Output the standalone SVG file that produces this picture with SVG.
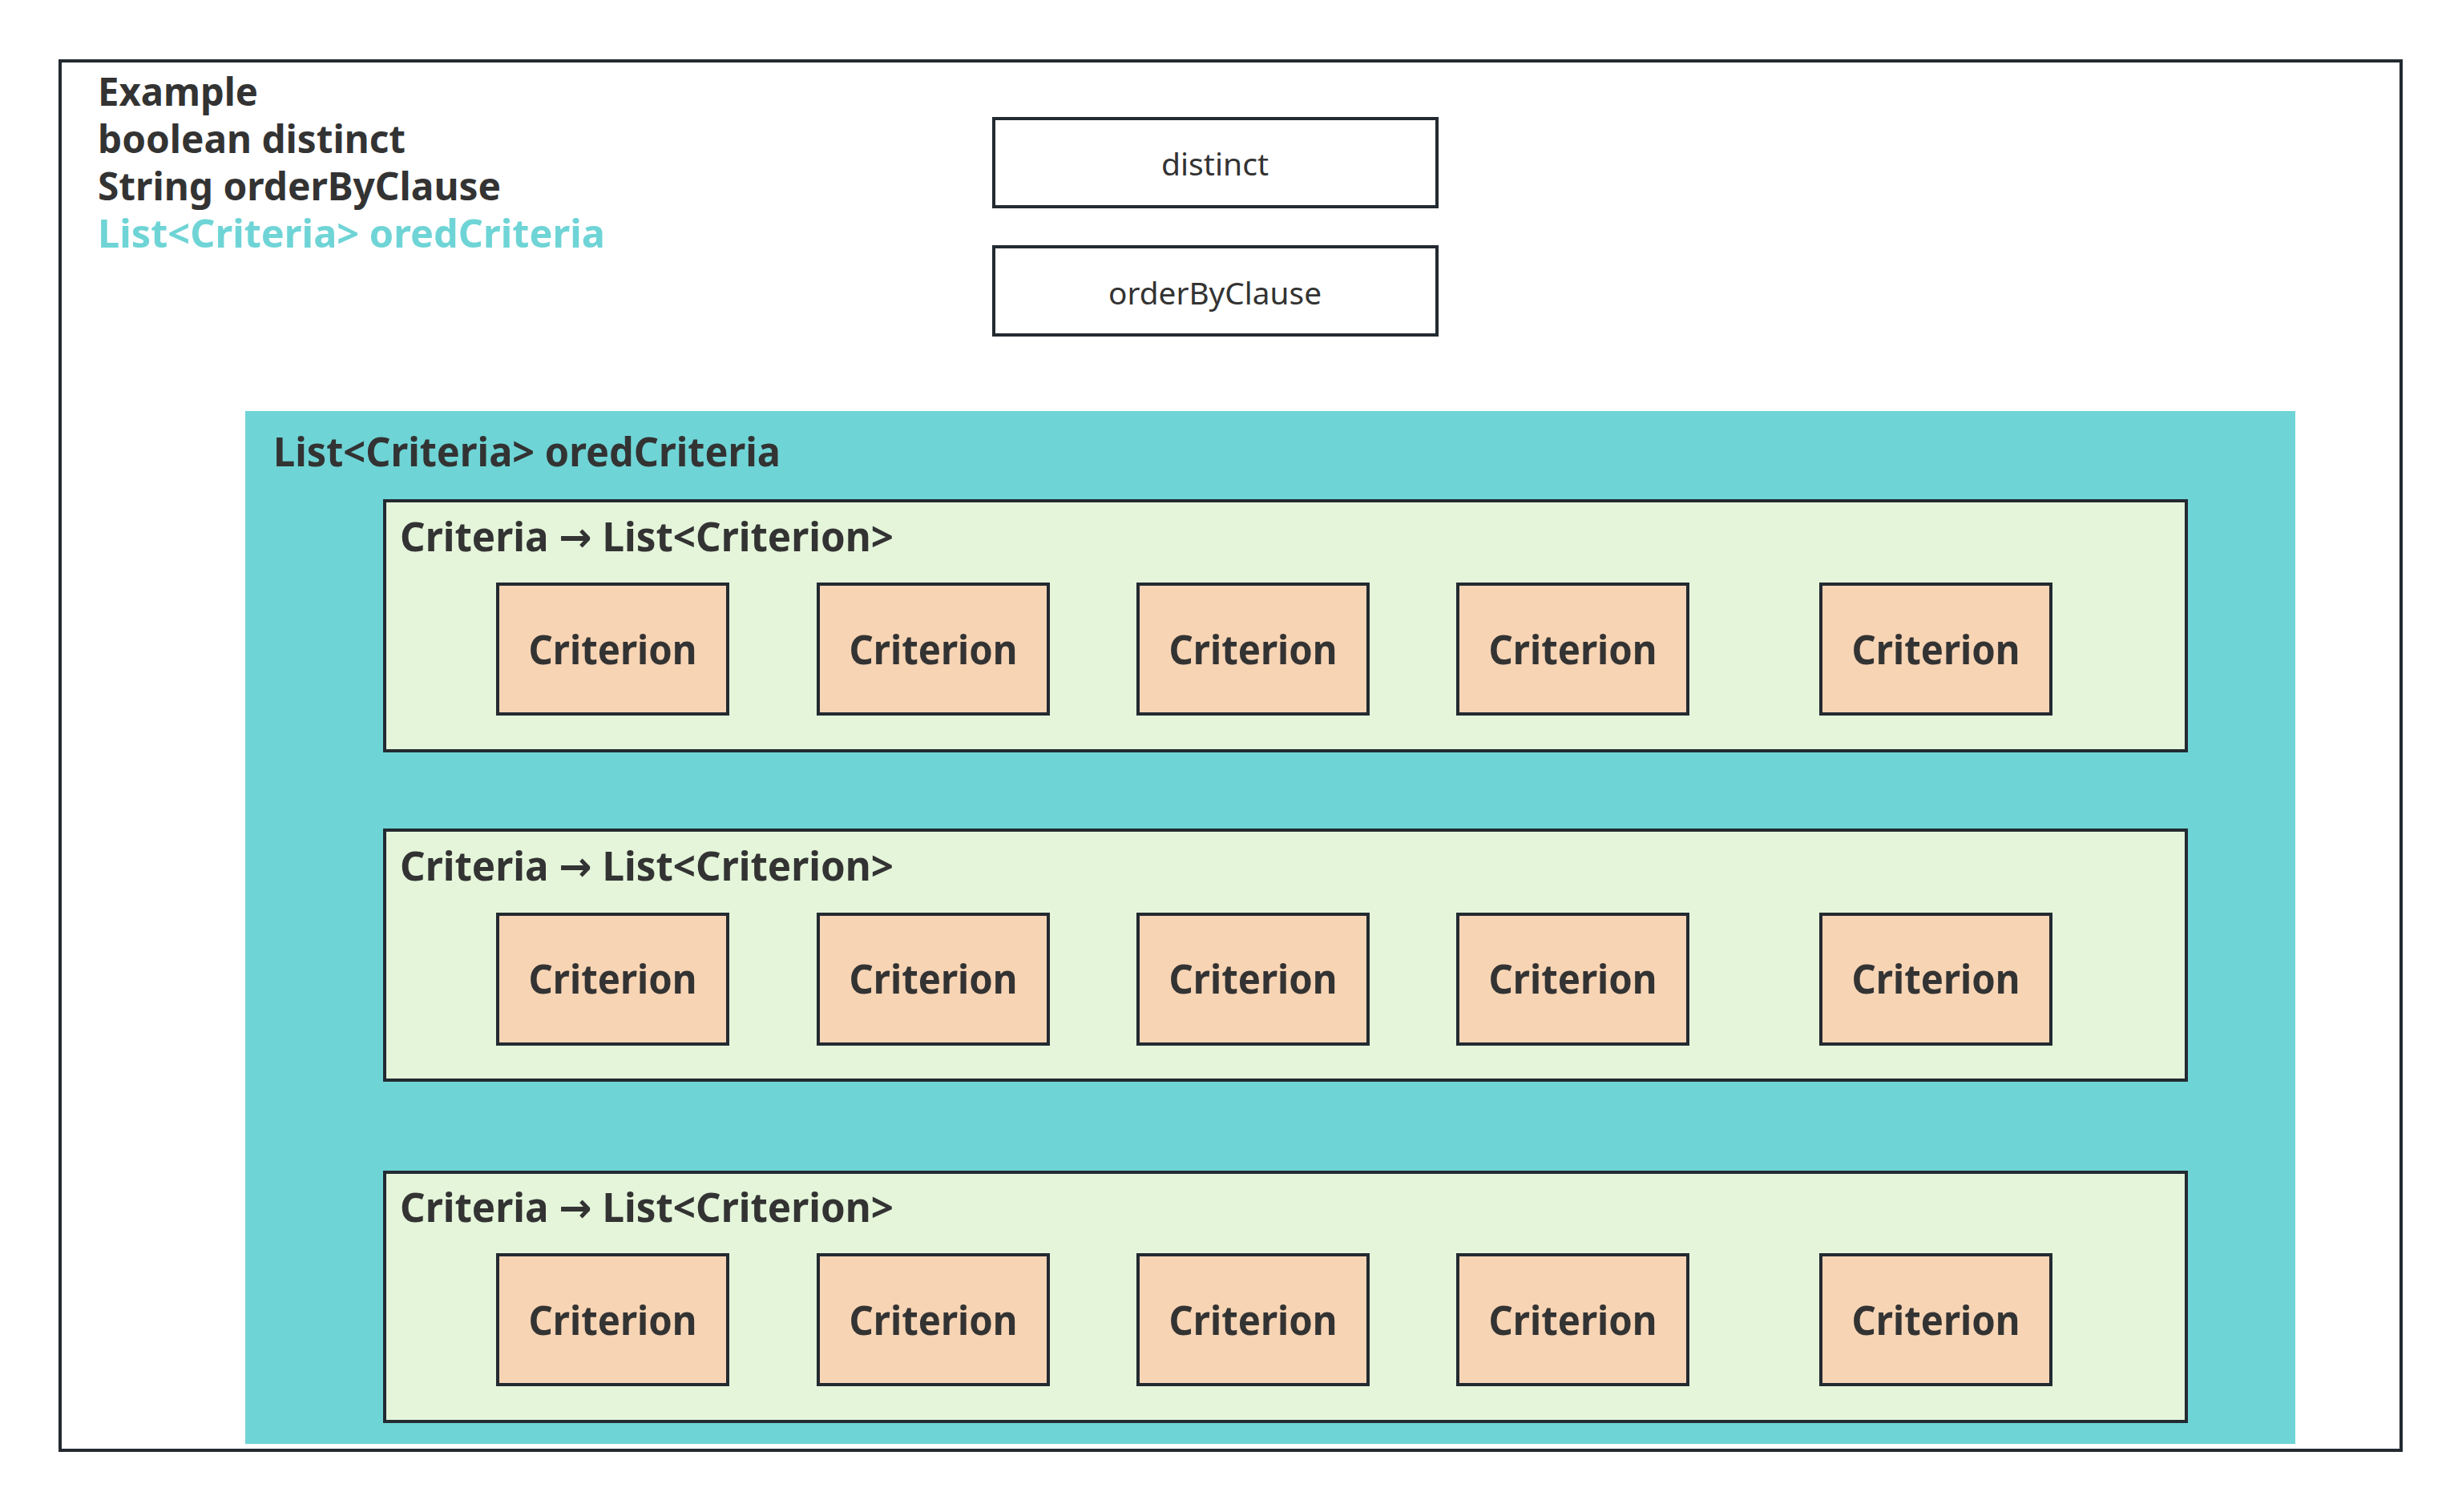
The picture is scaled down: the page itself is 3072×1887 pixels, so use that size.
<svg xmlns="http://www.w3.org/2000/svg" width="3072" height="1887" viewBox="0 0 3072 1887">
<style>
.frame{fill:#ffffff;stroke:#232a31;stroke-width:4}
.box{fill:#ffffff;stroke:#232a31;stroke-width:4}
.teal{fill:#6fd4d6}
.grp{fill:#e4f5da;stroke:#232a31;stroke-width:4}
.crit{fill:#f7d4b4;stroke:#232a31;stroke-width:4}
.b{font-family:"Noto Sans","Open Sans","DejaVu Sans",sans-serif;font-weight:bold;font-size:51px;fill:#333333}
.h{font-size:48px}
.r{font-family:"Noto Sans","Open Sans","DejaVu Sans",sans-serif;font-size:39px;fill:#333333}
.c{text-anchor:middle}
.cy{fill:#6fd4d6}
</style>
<rect width="3072" height="1887" fill="#ffffff"/>
<g id="example">
<rect class="frame" x="75" y="76" width="2921" height="1734"/>
<text class="b h" x="122" y="132" textLength="200" lengthAdjust="spacingAndGlyphs">Example</text>
<text class="b h" x="122" y="191" textLength="384" lengthAdjust="spacingAndGlyphs">boolean distinct</text>
<text class="b h" x="122" y="250" textLength="503" lengthAdjust="spacingAndGlyphs">String orderByClause</text>
<text class="b h cy" x="122" y="309" textLength="633" lengthAdjust="spacingAndGlyphs">List&lt;Criteria&gt; oredCriteria</text>
</g>
<g id="distinct">
<rect class="box" x="1240" y="148" width="553" height="110"/>
<text class="r c" x="1516" y="219" textLength="134" lengthAdjust="spacingAndGlyphs">distinct</text>
</g>
<g id="orderByClause">
<rect class="box" x="1240" y="308" width="553" height="110"/>
<text class="r c" x="1516" y="380" textLength="266" lengthAdjust="spacingAndGlyphs">orderByClause</text>
</g>
<g id="oredCriteria">
<rect class="teal" x="306" y="513" width="2558" height="1289"/>
<text class="b" x="341" y="582" textLength="633" lengthAdjust="spacingAndGlyphs">List&lt;Criteria&gt; oredCriteria</text>
</g>
<g id="criteria1">
<rect class="grp" x="480" y="625" width="2248" height="312"/>
<text class="b" x="499" y="688" textLength="616" lengthAdjust="spacingAndGlyphs">Criteria → List&lt;Criterion&gt;</text>
</g>
<g id="criteria2">
<rect class="grp" x="480" y="1036" width="2248" height="312"/>
<text class="b" x="499" y="1099" textLength="616" lengthAdjust="spacingAndGlyphs">Criteria → List&lt;Criterion&gt;</text>
</g>
<g id="criteria3">
<rect class="grp" x="480" y="1463" width="2248" height="311"/>
<text class="b" x="499" y="1525" textLength="616" lengthAdjust="spacingAndGlyphs">Criteria → List&lt;Criterion&gt;</text>
</g>
<g id="r1c1"><rect class="crit" x="621" y="729" width="287" height="162"/><text class="b c" x="764.5" y="829" textLength="210" lengthAdjust="spacingAndGlyphs">Criterion</text></g>
<g id="r1c2"><rect class="crit" x="1021" y="729" width="287" height="162"/><text class="b c" x="1164.5" y="829" textLength="210" lengthAdjust="spacingAndGlyphs">Criterion</text></g>
<g id="r1c3"><rect class="crit" x="1420" y="729" width="287" height="162"/><text class="b c" x="1563.5" y="829" textLength="210" lengthAdjust="spacingAndGlyphs">Criterion</text></g>
<g id="r1c4"><rect class="crit" x="1819" y="729" width="287" height="162"/><text class="b c" x="1962.5" y="829" textLength="210" lengthAdjust="spacingAndGlyphs">Criterion</text></g>
<g id="r1c5"><rect class="crit" x="2272" y="729" width="287" height="162"/><text class="b c" x="2415.5" y="829" textLength="210" lengthAdjust="spacingAndGlyphs">Criterion</text></g>
<g id="r2c1"><rect class="crit" x="621" y="1141" width="287" height="162"/><text class="b c" x="764.5" y="1240" textLength="210" lengthAdjust="spacingAndGlyphs">Criterion</text></g>
<g id="r2c2"><rect class="crit" x="1021" y="1141" width="287" height="162"/><text class="b c" x="1164.5" y="1240" textLength="210" lengthAdjust="spacingAndGlyphs">Criterion</text></g>
<g id="r2c3"><rect class="crit" x="1420" y="1141" width="287" height="162"/><text class="b c" x="1563.5" y="1240" textLength="210" lengthAdjust="spacingAndGlyphs">Criterion</text></g>
<g id="r2c4"><rect class="crit" x="1819" y="1141" width="287" height="162"/><text class="b c" x="1962.5" y="1240" textLength="210" lengthAdjust="spacingAndGlyphs">Criterion</text></g>
<g id="r2c5"><rect class="crit" x="2272" y="1141" width="287" height="162"/><text class="b c" x="2415.5" y="1240" textLength="210" lengthAdjust="spacingAndGlyphs">Criterion</text></g>
<g id="r3c1"><rect class="crit" x="621" y="1566" width="287" height="162"/><text class="b c" x="764.5" y="1666" textLength="210" lengthAdjust="spacingAndGlyphs">Criterion</text></g>
<g id="r3c2"><rect class="crit" x="1021" y="1566" width="287" height="162"/><text class="b c" x="1164.5" y="1666" textLength="210" lengthAdjust="spacingAndGlyphs">Criterion</text></g>
<g id="r3c3"><rect class="crit" x="1420" y="1566" width="287" height="162"/><text class="b c" x="1563.5" y="1666" textLength="210" lengthAdjust="spacingAndGlyphs">Criterion</text></g>
<g id="r3c4"><rect class="crit" x="1819" y="1566" width="287" height="162"/><text class="b c" x="1962.5" y="1666" textLength="210" lengthAdjust="spacingAndGlyphs">Criterion</text></g>
<g id="r3c5"><rect class="crit" x="2272" y="1566" width="287" height="162"/><text class="b c" x="2415.5" y="1666" textLength="210" lengthAdjust="spacingAndGlyphs">Criterion</text></g>
<g id="connectors"></g>
</svg>
